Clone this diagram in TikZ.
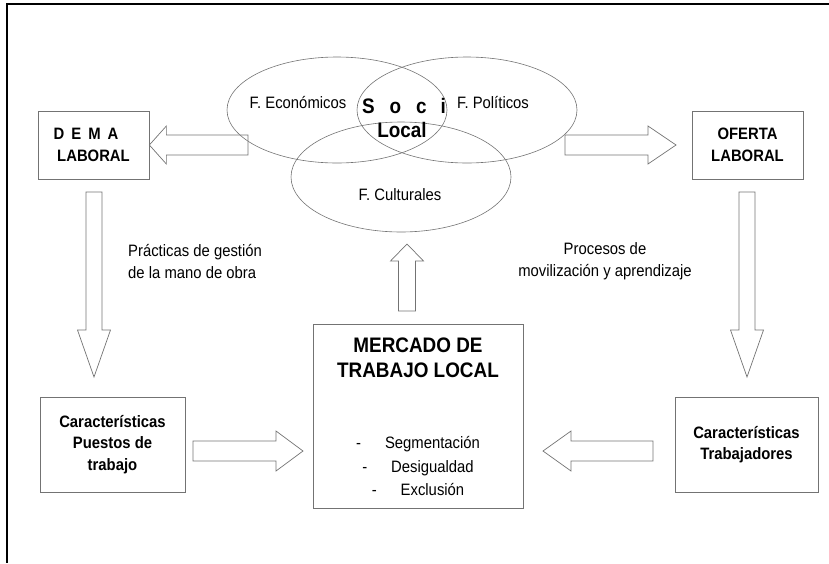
\documentclass[tikz,border=0pt]{standalone}
\usepackage{fontspec}
\setmainfont{Liberation Sans}[FakeStretch=0.9]
\usetikzlibrary{shapes.geometric,calc,positioning}
\definecolor{linegray}{gray}{0.45}
\tikzset{
  box/.style={draw=linegray, line width=0.7pt, rectangle, align=center, inner sep=0pt,
    font=\fontsize{16.5}{21.5}\selectfont\bfseries},
  ell/.style={draw=linegray, line width=0.6pt, ellipse, inner sep=0pt,
    minimum width=220pt, minimum height=106pt},
  lbl/.style={inner sep=0pt, font=\fontsize{16.5}{22}\selectfont},
  big/.style={inner sep=0pt, align=center, font=\fontsize{21}{25}\selectfont\bfseries},
  barrow/.style={draw=linegray, line width=0.7pt, line join=miter},
}
% tail, tip, head length, shaft half width, head half width
\newcommand{\blockarrow}[5]{%
  \coordinate (ba-b) at ($(#2)!#3!(#1)$);
  \draw[barrow] ($(#1)!#4!90:(#2)$) -- ($(ba-b)!#4!90:(#2)$) -- ($(ba-b)!#5!90:(#2)$)
    -- (#2) -- ($(ba-b)!#5!-90:(#2)$) -- ($(ba-b)!#4!-90:(#2)$) -- ($(#1)!#4!-90:(#2)$) -- cycle;
}
\begin{document}
\begin{tikzpicture}[x=1pt,y=-1pt]
\useasboundingbox (0,0) rectangle (829,563);
\draw[line width=1.3pt] (829,4) -- (7,4) -- (7,563);
\node[box, minimum width=111pt, minimum height=68pt] (dema) at (93.5,145) {D\hspace{7pt}E\hspace{7pt}M\hspace{7pt}A\hspace*{15pt}\\LABORAL};
\node[box, minimum width=111pt, minimum height=68pt] (oferta) at (747.5,145) {OFERTA\\LABORAL};
\node[box, minimum width=145pt, minimum height=95pt] (puestos) at (112.5,444.5) {Características\\Puestos de\\trabajo};
\node[box, minimum width=143pt, minimum height=95pt] (trabaj) at (746.5,444.5) {Características\\Trabajadores};
\node[box, minimum width=210pt, minimum height=184pt] (mercado) at (418,416) {};
\node[big] (mtitle) at (418,357.5) {MERCADO DE\\TRABAJO LOCAL};
\node[lbl, align=center, font=\fontsize{16.5}{23.5}\selectfont] (mlist) at (418,466) {-\hspace{24pt}Segmentación\\-\hspace{24pt}Desigualdad\\-\hspace{24pt}Exclusión};
\node[ell] (feco) at (337,110) {};
\node[ell] (fpol) at (467,110) {};
\node[ell, minimum height=110pt] (fcul) at (401,177) {};
\node[lbl] (teco) at (298,103) {F. Económicos};
\node[lbl] (tpol) at (493,103) {F. Políticos};
\node[lbl] (tcul) at (400,195) {F. Culturales};
\node[big] (soci) at (404,106) {S\hspace{15pt}o\hspace{15pt}c\hspace{14pt}i};
\node[big] (local) at (402,130) {Local};
\node[lbl, align=left, anchor=west] (pract) at (128,261) {Prácticas de gestión\\de la mano de obra};
\node[lbl, align=center] (proc) at (605,261) {Procesos de\\movilización y aprendizaje};
\coordinate (a1t) at (248,145);
\coordinate (a2t) at (565,145);
\coordinate (a2h) at (676,145);
\coordinate (a3t) at (94,192);
\coordinate (a3h) at (94,377);
\coordinate (a4t) at (747,192);
\coordinate (a4h) at (747,377);
\coordinate (a5t) at (407,311);
\coordinate (a5h) at (407,244);
\coordinate (a6t) at (193,451);
\coordinate (a6h) at (303,451);
\coordinate (a7t) at (653,451);
\coordinate (a7h) at (543,451);
\blockarrow{a1t}{dema.east}{17pt}{10pt}{19pt}
\blockarrow{a2t}{a2h}{28pt}{10pt}{19pt}
\blockarrow{a3t}{a3h}{47pt}{8pt}{16.5pt}
\blockarrow{a4t}{a4h}{47pt}{8pt}{16.5pt}
\blockarrow{a5t}{a5h}{17pt}{8.5pt}{16.5pt}
\blockarrow{a6t}{a6h}{27pt}{10pt}{20pt}
\blockarrow{a7t}{a7h}{28pt}{10pt}{20pt}
\end{tikzpicture}
\end{document}
